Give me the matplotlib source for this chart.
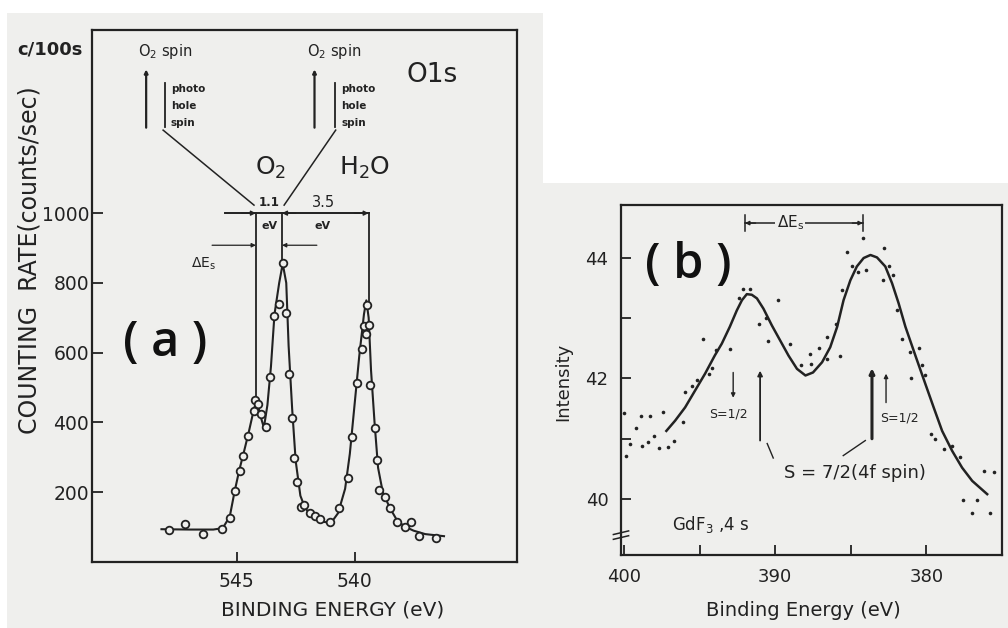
import matplotlib
matplotlib.use("Agg")
import matplotlib.pyplot as plt
from matplotlib.patches import Rectangle

plt.rcParams['font.family'] = ['DejaVu Sans']
plt.rcParams['mathtext.default'] = 'regular'

PAPER = '#efefed'
INK = '#222222'

# ---------------- Panel (a) data: O1s spectrum ----------------
a_energy = [547.9, 547.2, 546.45, 545.64, 545.3, 545.08, 544.87, 544.74, 544.53,
            544.27, 544.23, 544.1, 543.97, 543.76, 543.59, 543.42, 543.2, 543.03,
            542.9, 542.8, 542.65, 542.56, 542.44, 542.26, 542.14, 541.9, 541.7,
            541.45, 541.05, 540.68, 540.26, 540.1, 539.9, 539.7, 539.6, 539.5,
            539.45, 539.4, 539.36, 539.15, 539.06, 538.95, 538.7, 538.5, 538.2,
            537.86, 537.6, 537.27, 536.54]
a_counts = [91, 108, 80, 94, 126, 203, 260, 303, 360,
            434, 463, 454, 425, 386, 531, 706, 740, 857,
            714, 540, 414, 297, 229, 157, 163, 140, 131,
            123, 114, 154, 240, 357, 514, 611, 677, 654,
            737, 680, 506, 383, 291, 206, 186, 154, 114,
            100, 114, 74, 69]
a_fit_energy = [548.2, 547.0, 546.0, 545.6, 545.3, 545.1, 544.9, 544.7, 544.5, 544.3,
                544.2, 544.1, 544.0, 543.85, 543.7, 543.55, 543.4, 543.2, 543.05,
                542.9, 542.8, 542.65, 542.5, 542.3, 542.1, 541.9, 541.6, 541.3, 541.0,
                540.7, 540.4, 540.2, 540.0, 539.8, 539.6, 539.5, 539.4, 539.3, 539.15,
                539.0, 538.8, 538.5, 538.2, 537.9, 537.5, 537.0, 536.2]
a_fit_counts = [94, 93, 93, 97, 130, 200, 262, 315, 370, 430,
                455, 450, 420, 385, 450, 560, 710, 800, 855,
                800, 620, 440, 290, 190, 155, 138, 125, 115, 112,
                140, 210, 310, 450, 590, 710, 750, 700, 550, 400,
                270, 200, 155, 120, 103, 90, 80, 74]
a_xticks = [545, 540]
a_yticks = [200, 400, 600, 800, 1000]

# ---------------- Panel (b) data: GdF3 4s spectrum ----------------
b_energy = [400.0, 399.9, 399.6, 399.2, 398.9, 398.8, 398.4, 398.3, 398.0, 397.7,
            397.4, 397.1, 396.7, 396.1, 396.0, 395.5, 395.2, 394.8, 394.4, 394.2,
            393.9, 393.0, 392.4, 392.1, 391.7, 391.1, 390.6, 390.5, 389.8, 389.0,
            388.3, 387.7, 387.6, 387.1, 386.6, 386.6, 386.0, 385.7, 385.6, 385.25,
            384.9, 384.5, 384.2, 384.0, 382.9, 382.8, 382.5, 382.2, 381.94, 381.6,
            381.1, 381.0, 380.5, 380.3, 380.1, 379.7, 379.45, 378.85, 378.3, 377.75,
            377.6, 376.97, 376.65, 376.2, 375.8, 375.5]
b_intensity = [41.42, 40.72, 40.92, 41.17, 41.38, 40.88, 40.94, 41.38, 41.05, 40.85,
               41.44, 40.86, 40.97, 41.27, 41.77, 41.88, 41.97, 42.66, 42.08, 42.17,
               42.47, 42.49, 43.33, 43.49, 43.49, 42.91, 43.0, 42.63, 43.3, 42.58,
               42.22, 42.41, 42.24, 42.5, 42.69, 42.33, 42.91, 42.38, 43.47, 44.1,
               43.86, 43.77, 44.33, 43.8, 43.63, 44.16, 43.86, 43.72, 43.13, 42.66,
               42.44, 42.0, 42.5, 42.22, 42.05, 41.08, 41.0, 40.83, 40.88, 40.69,
               39.99, 39.77, 39.99, 40.47, 39.77, 40.44]
b_fit_energy = [397.2, 396.62, 395.96, 395.3, 394.64, 394.0, 393.53, 393.0, 392.54,
                392.2, 391.88, 391.55, 391.21, 390.78, 390.22, 389.67, 389.12, 388.56,
                388.0, 387.5, 386.9, 386.36, 385.9, 385.48, 385.03, 384.6, 384.15,
                383.7, 383.27, 382.72, 382.27, 381.84, 381.39, 380.7, 380.07, 379.52,
                378.96, 378.3, 377.64, 376.97, 375.98]
b_fit_intensity = [41.13, 41.30, 41.52, 41.80, 42.08, 42.38, 42.58, 42.86, 43.13,
                   43.30, 43.40, 43.39, 43.33, 43.16, 42.88, 42.63, 42.38, 42.16,
                   42.05, 42.10, 42.27, 42.52, 42.86, 43.30, 43.63, 43.86, 44.00,
                   44.05, 44.01, 43.86, 43.58, 43.25, 42.86, 42.36, 41.91, 41.52,
                   41.13, 40.80, 40.52, 40.30, 40.08]
b_xticks = [400, 390, 380]
b_xminor = [395, 385]
b_yticks = [40, 42, 44]
b_yminor = [41, 43]

W, H = 1008, 628
fig = plt.figure(figsize=(W / 100, H / 100), dpi=100)
fig.patch.set_facecolor('white')
fig.patches.append(Rectangle((7 / W, 0), (543 - 7) / W, (H - 13) / H,
                             transform=fig.transFigure, facecolor=PAPER,
                             edgecolor='none', zorder=-10))
fig.patches.append(Rectangle((543 / W, 0), (W - 543) / W, (H - 183) / H,
                             transform=fig.transFigure, facecolor=PAPER,
                             edgecolor='none', zorder=-10))


def arrow(ax, start, end, lw=1.0, style='-|>', ms=8):
    ax.annotate('', xy=end, xytext=start,
                arrowprops=dict(arrowstyle=style, color=INK, lw=lw,
                                shrinkA=0, shrinkB=0, mutation_scale=ms))


# ======================= Panel (a) =======================
ax1 = fig.add_axes([92 / W, 1 - 562 / H, 425 / W, 532 / H])
ax1.set_zorder(2)
ax1.set_facecolor(PAPER)
ax1.set_xlim(551.15, 533.1)
ax1.set_ylim(0, 1525)
for s in ax1.spines.values():
    s.set_linewidth(1.6)
    s.set_color(INK)
ax1.set_xticks(a_xticks)
ax1.set_yticks(a_yticks)
ax1.tick_params(axis='x', direction='in', length=7, width=1.3, pad=7,
                labelsize=13.5, colors=INK)
ax1.tick_params(axis='y', direction='in', length=8, width=1.3, pad=2,
                labelsize=13.5, colors=INK)

ax1.plot(a_fit_energy, a_fit_counts, color=INK, lw=1.5, zorder=3)
ax1.plot(a_energy, a_counts, 'o', ms=5.5, mfc=PAPER, mec=INK, mew=1.3, zorder=4)

# reference lines and spin splitting annotations
ax1.plot([545.5, 539.4], [1000, 1000], color=INK, lw=1.4)
ax1.plot([544.19, 544.19], [1000, 463], color=INK, lw=1.3)
ax1.plot([543.08, 543.08], [1000, 857], color=INK, lw=1.3)
ax1.plot([539.4, 539.4], [1000, 745], color=INK, lw=1.3)
arrow(ax1, (544.8, 1000), (544.19, 1000), ms=7)
arrow(ax1, (542.5, 1000), (543.08, 1000), ms=7)
arrow(ax1, (540.0, 1000), (539.4, 1000), ms=7)
ax1.text(543.63, 1030, '1.1', ha='center', va='center', fontsize=8.5,
         fontweight='bold', color=INK)
ax1.text(543.63, 962, 'eV', ha='center', va='center', fontsize=8,
         fontweight='bold', color=INK)
ax1.text(541.3, 1030, '3.5', ha='center', va='center', fontsize=10.5, color=INK)
ax1.text(541.35, 962, 'eV', ha='center', va='center', fontsize=8,
         fontweight='bold', color=INK)
arrow(ax1, (546.05, 908), (544.19, 908), lw=0.9, ms=6)
arrow(ax1, (541.6, 908), (543.08, 908), lw=0.9, ms=6)
ax1.text(546.4, 855, r'$\Delta$E$_s$', ha='center', va='center', fontsize=10,
         color=INK)

# spin diagrams on top
for xc, xu, xt, xe in [(548.03, 548.85, 547.8, 544.27), (540.85, 541.7, 540.56, 542.99)]:
    ax1.text(xc, 1462, r'O$_2$ spin', ha='center', va='center', fontsize=10.5,
             color=INK)
    arrow(ax1, (xu, 1245), (xu, 1412), lw=1.6, ms=5)
    ax1.plot([xc, xc], [1372, 1246], color=INK, lw=1.3)
    ax1.text(xt, 1357, 'photo', ha='left', va='center', fontsize=7.5,
             fontweight='bold', color=INK)
    ax1.text(xt, 1306, 'hole', ha='left', va='center', fontsize=7.5,
             fontweight='bold', color=INK)
    ax1.text(xt, 1259, 'spin', ha='left', va='center', fontsize=7.5,
             fontweight='bold', color=INK)
    ax1.plot([xc + (0.1 if xc > 545 else -0.05), xe], [1238, 1023], color=INK, lw=1.1)

ax1.text(536.7, 1396, 'O1s', ha='center', va='center', fontsize=19, color=INK)
ax1.text(543.55, 1130, r'O$_2$', ha='center', va='center', fontsize=18, color=INK)
ax1.text(539.57, 1130, r'H$_2$O', ha='center', va='center', fontsize=18, color=INK)
ax1.text(548.03, 625, '( a )', ha='center', va='center', fontsize=35,
         family='Open Sans', fontweight='semibold', color='#111111')

fig.text(50 / W, 1 - 50 / H, 'c/100s', ha='center', va='center', fontsize=13,
         fontweight='bold', color=INK)
fig.text(30 / W, 1 - 260 / H, 'COUNTING  RATE(counts/sec)', ha='center',
         va='center', rotation=90, fontsize=17, color=INK)
fig.text(333 / W, 1 - 610 / H, 'BINDING ENERGY (eV)', ha='center', va='center',
         fontsize=14.5, color=INK)

# ======================= Panel (b) =======================
ax2 = fig.add_axes([621 / W, 1 - 555 / H, 381 / W, 350 / H])
ax2.set_zorder(2)
ax2.set_facecolor(PAPER)
ax2.set_xlim(400.2, 375.0)
ax2.set_ylim(39.07, 44.88)
for s in ax2.spines.values():
    s.set_linewidth(1.6)
    s.set_color(INK)
ax2.set_xticks(b_xticks)
ax2.set_xticks(b_xminor, minor=True)
ax2.set_yticks(b_yticks)
ax2.set_yticks(b_yminor, minor=True)
ax2.tick_params(axis='both', which='both', direction='in', length=7, width=1.3,
                colors=INK)
ax2.tick_params(axis='x', which='major', pad=9, labelsize=13)
ax2.tick_params(axis='y', which='major', pad=9, labelsize=13)

ax2.plot(b_fit_energy, b_fit_intensity, color=INK, lw=1.8, zorder=3)
ax2.plot(b_energy, b_intensity, 'o', ms=2.6, color=INK, mew=0, zorder=4)

# axis break mark
ax2.plot([-0.02, 0.02], [39.33, 39.39], transform=ax2.get_yaxis_transform(),
         color=INK, lw=1.1, clip_on=False)
ax2.plot([-0.02, 0.02], [39.41, 39.47], transform=ax2.get_yaxis_transform(),
         color=INK, lw=1.1, clip_on=False)

# Delta E_s bracket
ax2.plot([392.0, 384.2], [44.58, 44.58], color=INK, lw=1.1)
ax2.plot([392.0, 392.0], [44.45, 44.71], color=INK, lw=1.1)
ax2.plot([384.2, 384.2], [44.45, 44.71], color=INK, lw=1.1)
arrow(ax2, (391.3, 44.58), (392.0, 44.58), lw=1.0, ms=6)
arrow(ax2, (384.9, 44.58), (384.2, 44.58), lw=1.0, ms=6)
ax2.text(389.0, 44.58, r'$\Delta$E$_s$', ha='center', va='center', fontsize=11,
         color=INK, bbox=dict(facecolor=PAPER, edgecolor='none', pad=1))

# spin arrows
arrow(ax2, (392.78, 42.1), (392.78, 41.68), lw=1.0, ms=6)
ax2.text(393.1, 41.41, 'S=1/2', ha='center', va='center', fontsize=9, color=INK)
arrow(ax2, (391.0, 40.97), (391.0, 42.13), lw=1.3, ms=7)
ax2.plot([390.53, 390.13], [40.92, 40.68], color=INK, lw=1.0)
arrow(ax2, (383.6, 41.0), (383.6, 42.17), lw=2.2, ms=7)
arrow(ax2, (382.67, 41.6), (382.67, 42.08), lw=1.0, ms=6)
ax2.text(381.8, 41.35, 'S=1/2', ha='center', va='center', fontsize=9, color=INK)
ax2.plot([384.04, 385.5], [40.97, 40.72], color=INK, lw=1.0)
ax2.text(384.7, 40.43, 'S = 7/2(4f spin)', ha='center', va='center', fontsize=13,
         color=INK)
ax2.text(394.3, 39.58, r'GdF$_3$ ,4 s', ha='center', va='center', fontsize=12,
         color=INK)
ax2.text(395.76, 43.88, '( b )', ha='center', va='center', fontsize=35,
         family='Open Sans', fontweight='semibold', color='#111111')

fig.text(563 / W, 1 - 382 / H, 'Intensity', ha='center', va='center',
         rotation=90, fontsize=13, color=INK)
fig.text(803 / W, 1 - 610 / H, 'Binding Energy (eV)', ha='center', va='center',
         fontsize=14, color=INK)

fig.savefig('out.png', dpi=100, facecolor='white')
